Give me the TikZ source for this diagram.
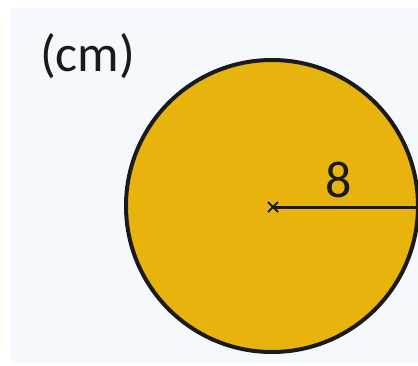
\documentclass[tikz,border=0pt]{standalone}
\usepackage{fontspec}
\setmainfont{Carlito}
\usetikzlibrary{calc}
\definecolor{panel}{HTML}{F5F9FD}
\definecolor{gold}{HTML}{E9B30E}
\definecolor{ink}{HTML}{1A1A1A}
\tikzset{
  labeltext/.style={font=\fontsize{52}{62}\selectfont, text=ink, inner sep=0pt},
  outline/.style={draw=ink, line width=4pt},
  radiusline/.style={draw=ink, line width=3pt},
  crossline/.style={draw=ink, line width=1.8pt}
}
\begin{document}
\begin{tikzpicture}[x=1pt,y=-1pt]
\useasboundingbox (0,0) rectangle (418,365);
\fill[white] (0,0) rectangle (418,365);
\fill[panel] (11,8) rectangle (418,363);
\begin{scope}
\clip (0,0) rectangle (418,365);
\node[circle, outline, fill=gold, minimum size=292pt, inner sep=0pt, outer sep=0pt] (c) at (272,206) {};
\end{scope}
\coordinate (O) at (273,207);
\draw[crossline] ($(O)+(-5,-5)$) -- ($(O)+(5,5)$);
\draw[crossline] ($(O)+(-5,5)$) -- ($(O)+(5,-5)$);
\coordinate (E) at (c.east |- O);
\draw[radiusline] (O) -- (E);
\node[labeltext, anchor=base] (r) at (339,197) {8};
\node[labeltext, anchor=base west] (u) at (40,71) {(cm)};
\end{tikzpicture}
\end{document}
